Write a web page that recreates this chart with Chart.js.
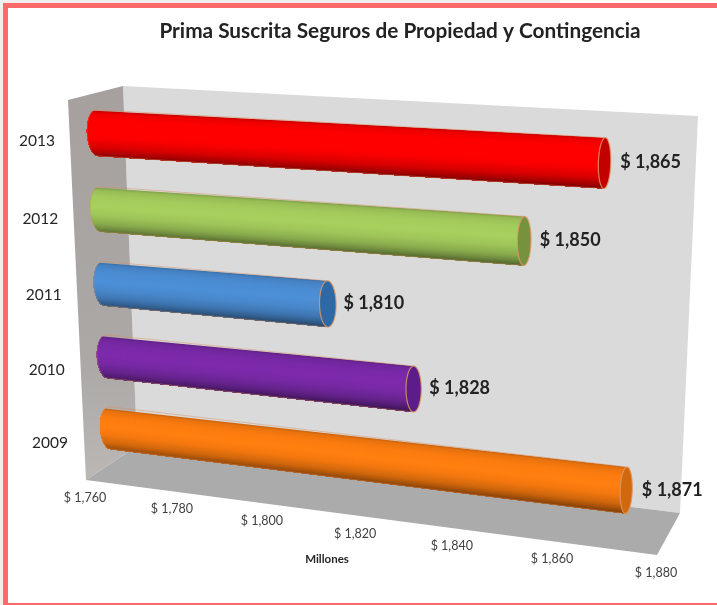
<!DOCTYPE html>
<html><head><meta charset="utf-8">
<style>html,body{margin:0;padding:0;background:#fff}#w{width:717px;height:605px;position:relative}</style>
<script src="https://cdn.jsdelivr.net/npm/chart.js@4"></script>
</head><body><div id="w"><canvas id="c" width="717" height="605"></canvas></div>
<script>
const titleText = 'Prima Suscrita Seguros de Propiedad y Contingencia';
const axisTitle = 'Millones';
const categories = ['2013', '2012', '2011', '2010', '2009'];
const values = [1865, 1850, 1810, 1828, 1871];
const barColors = ['#ff0000', '#a3cb5c', '#4b8cd2', '#7a2aa8', '#fb7c10'];
const capColors = ['#c20000', '#76923c', '#2d69a6', '#5c1c8a', '#d2680e'];
const axisMin = 1760, axisMax = 1880, axisStep = 20;

// Projection of the flat chart onto the 3D-looking box
const rowQuad = [[97,133],[686,168],[673,496],[110,428]];
function makeH(q){
  const [x0,y0]=q[0],[x1,y1]=q[1],[x2,y2]=q[2],[x3,y3]=q[3];
  const dx1=x1-x2,dx2=x3-x2,sx=x0-x1+x2-x3,dy1=y1-y2,dy2=y3-y2,sy=y0-y1+y2-y3;
  const den=dx1*dy2-dx2*dy1,g=(sx*dy2-dx2*sy)/den,h=(dx1*sy-sx*dy1)/den;
  const a=x1-x0+g*x1,b=x3-x0+h*x3,d=y1-y0+g*y1,e=y3-y0+h*y3;
  return (u,v)=>{const w=g*u+h*v+1;return [(a*u+b*v+x0)/w,(d*u+e*v+y0)/w];};
}
const H = makeH(rowQuad);
const warpTick = u => u*0.898/(1-0.102*u);
function project(chart,px,py){
  const xs=chart.scales.x, ys=chart.scales.y;
  const u=(px-xs.left)/xs.width;
  const a=ys.getPixelForValue(0), b=ys.getPixelForValue(categories.length-1);
  return H(u,(py-a)/(b-a));
}
function poly(ctx,pts){ctx.beginPath();pts.forEach((p,i)=>i?ctx.lineTo(p[0],p[1]):ctx.moveTo(p[0],p[1]));ctx.closePath();}
function shadeAt(v){
  const s=[[0,.80],[.06,.93],[.2,1],[.42,1.03],[.62,.97],[.8,.84],[.92,.66],[1,.5]];
  for(let i=1;i<s.length;i++) if(v<=s[i][0]){const t=(v-s[i-1][0])/(s[i][0]-s[i-1][0]);return s[i-1][1]+t*(s[i][1]-s[i-1][1]);}
  return .5;
}
function shade(hex,k){
  const n=parseInt(hex.slice(1),16);
  const f=c=>Math.min(255,Math.round(c*k));
  return `rgb(${f(n>>16&255)},${f(n>>8&255)},${f(n&255)})`;
}
const capHalf = x => 10-0.0075*(x-100);

const box3d = {
  id:'box3d',
  beforeDatasetsDraw(chart){
    const ctx=chart.ctx;
    ctx.save();
    ctx.fillStyle='#fff';ctx.fillRect(0,0,717,605);
    ctx.fillStyle='#f1efed';ctx.fillRect(0,0,560,3);ctx.fillRect(0,0,3,605);
    ctx.fillStyle='#fa6a6a';
    ctx.fillRect(3,3,714,5);ctx.fillRect(3,3,5,602);ctx.fillRect(3,603,714,2);
    const wall=ctx.createLinearGradient(0,90,0,480);
    wall.addColorStop(0,'#a6a19f');wall.addColorStop(.7,'#aca8a6');wall.addColorStop(1,'#bab7b5');
    ctx.fillStyle='#dadada';poly(ctx,[[123,86],[698,116],[680,513],[137,446]]);ctx.fill();
    ctx.fillStyle=wall;poly(ctx,[[68,100],[123,86],[137,446],[86,480]]);ctx.fill();
    ctx.fillStyle='#ababab';poly(ctx,[[86,480],[137,446],[680,513],[657,555]]);ctx.fill();
    ctx.restore();
  },
  beforeDatasetDraw(){return false;},
  afterDatasetsDraw(chart){
    const ctx=chart.ctx, bars=chart.getDatasetMeta(0).data;
    const ys=chart.scales.y,xs=chart.scales.x;
    const basePx=xs.getPixelForValue(axisMin);
    ctx.save();
    bars.forEach((bar,i)=>{
      const top=bar.y-bar.height/2, bot=bar.y+bar.height/2;
      const T0=project(chart,basePx,top),B0=project(chart,basePx,bot);
      const T1=project(chart,bar.x,top),B1=project(chart,bar.x,bot);
      const lerp=(a,b,v)=>[a[0]+(b[0]-a[0])*v,a[1]+(b[1]-a[1])*v];
      const w0=capHalf((T0[0]+B0[0])/2), w1=capHalf((T1[0]+B1[0])/2);
      const left=v=>{const p=lerp(T0,B0,v);return [p[0]-w0*Math.sqrt(Math.max(0,1-(2*v-1)*(2*v-1))),p[1]];};
      const outline=[];const N=60;
      for(let s=0;s<=N;s++)outline.push(left(s/N));
      outline.reverse();
      const sil=[...outline,T1,B1];
      // cylinder side
      ctx.save();poly(ctx,sil);ctx.clip();
      for(let s=0;s<N;s++){
        const v=s/N;
        ctx.fillStyle=shade(barColors[i],shadeAt(v+0.5/N));
        const a=lerp(T0,B0,v),b=lerp(T1,B1,v);
        poly(ctx,[[a[0]-20,a[1]],[b[0]+2,b[1]],[B1[0]+2,B1[1]+3],[B0[0]-20,B0[1]+3]]);ctx.fill();
      }
      ctx.restore();
      ctx.lineWidth=1;ctx.strokeStyle='rgba(214,140,90,0.45)';
      poly(ctx,sil);ctx.stroke();
      // end cap
      const C=lerp(T1,B1,.5),ring=[];
      for(let k=0;k<64;k++){const t=k/64*2*Math.PI;
        ring.push([C[0]+(B1[0]-T1[0])/2*Math.sin(t)+w1*Math.cos(t),C[1]+(B1[1]-T1[1])/2*Math.sin(t)]);}
      ctx.fillStyle=capColors[i];poly(ctx,ring);ctx.fill();
      ctx.strokeStyle='rgba(222,150,100,0.85)';ctx.lineWidth=1.2;ctx.stroke();
      // value label
      ctx.fillStyle='#222';ctx.font='bold 18px Lato';ctx.textAlign='center';ctx.textBaseline='middle';
      const val=chart.data.datasets[0].data[i];
      ctx.fillText('$ '+val.toLocaleString('en-US'),C[0]+46,C[1]-0.5);
    });
    // category labels
    ctx.fillStyle='#262626';ctx.font='15.5px Lato';ctx.textAlign='center';ctx.textBaseline='middle';
    categories.forEach((c,i)=>{
      const py=ys.getPixelForValue(i);
      const p=project(chart,basePx,py), f=i/(categories.length-1);
      ctx.fillText(c,p[0]-60,p[1]+8+7*f);
    });
    // value axis labels
    ctx.fillStyle='#404040';ctx.font='12.5px Lato';
    xs.ticks.forEach(t=>{
      const u=(xs.getPixelForValue(t.value)-xs.left)/xs.width, s=warpTick(u);
      ctx.fillText(t.label,85+571*s,498+75*s);
    });
    ctx.fillStyle='#262626';ctx.font='bold 11.5px Lato';
    ctx.fillText(axisTitle,327,559);
    ctx.fillStyle='#222';ctx.font='bold 20.8px Lato';
    ctx.fillText(titleText,400,31);
    ctx.restore();
  }
};

new Chart(document.getElementById('c'),{
  type:'bar',
  data:{labels:categories,datasets:[{label:'Prima Suscrita',data:values,backgroundColor:barColors,categoryPercentage:1,barPercentage:0.6}]},
  options:{
    indexAxis:'y',responsive:false,animation:false,
    layout:{padding:{left:60,right:60,top:60,bottom:60}},
    plugins:{legend:{display:false},tooltip:{enabled:false}},
    scales:{
      x:{min:axisMin,max:axisMax,display:false,ticks:{stepSize:axisStep,callback:v=>'$ '+v.toLocaleString('en-US')}},
      y:{display:false}
    }
  },
  plugins:[box3d]
});
</script></body></html>
